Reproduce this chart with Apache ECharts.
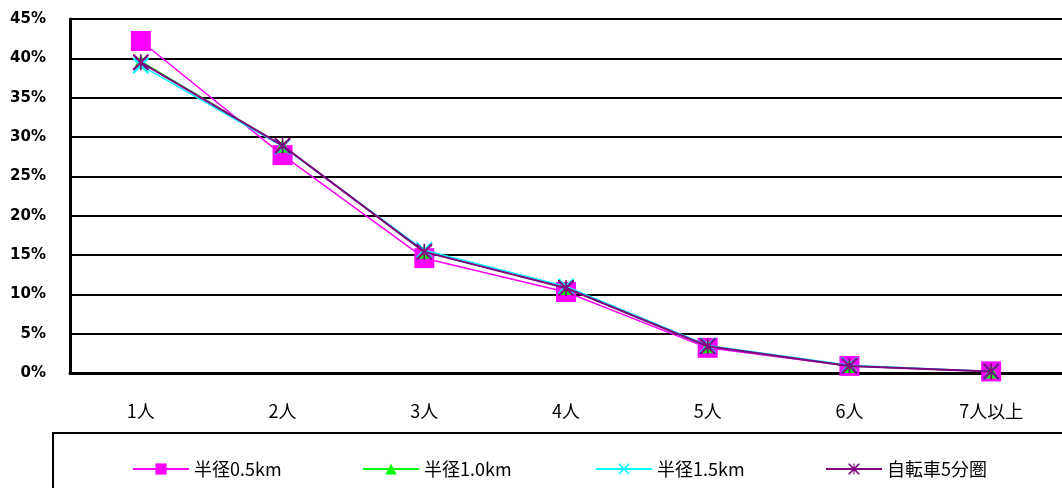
<!DOCTYPE html>
<html><head><meta charset="utf-8">
<script src="https://cdn.jsdelivr.net/npm/echarts@6/dist/echarts.min.js"></script>
<style>html,body{margin:0;padding:0;background:#fff}#c{width:1062px;height:488px}</style>
</head><body><div id="c"></div>
<script>
const categories = ['1人','2人','3人','4人','5人','6人','7人以上'];
const seriesNames = ['半径0.5km','半径1.0km','半径1.5km','自転車5分圏'];
const r05 = [42.2, 27.7, 14.6, 10.3, 3.2, 0.9, 0.2];
const r10 = [39.6, 28.9, 15.4, 10.8, 3.4, 0.9, 0.2];
const r15 = [39.1, 28.8, 15.6, 11.0, 3.5, 1.0, 0.2];
const bike = [39.5, 28.9, 15.4, 10.8, 3.4, 0.9, 0.2];
const yTicks = [0,5,10,15,20,25,30,35,40,45];

const X = 'path://M0,0 L2,0 L10,8 L18,0 L20,0 L20,2 L12,10 L20,18 L20,20 L18,20 L10,12 L2,20 L0,20 L0,18 L8,10 L0,2 Z';
const AST = 'path://M0,0 L2,0 L9,7 L9,0 L11,0 L11,7 L18,0 L20,0 L20,2 L12,10 L20,18 L20,20 L18,20 L11,13 L11,20 L9,20 L9,13 L2,20 L0,20 L0,18 L8,10 L0,2 Z';
const colors = ['#FF00FF','#00FF00','#00FFFF','#800080'];
const symbols = ['rect','triangle',X,AST];
const sizes = [20,14,16,16];
const datas = [r05,r10,r15,bike];

const chart = echarts.init(document.getElementById('c'));
const legendLefts = [127, 357, 590, 820];
chart.setOption({
  animation:false,
  grid:{left:70, top:19, width:999, height:354},
  xAxis:{type:'category', data:categories, boundaryGap:true,
    axisLine:{lineStyle:{color:'#000', width:3}},
    axisTick:{inside:true, length:7, lineStyle:{color:'#000', width:3}},
    axisLabel:{color:'#000', fontSize:18, margin:29, fontFamily:'Noto Sans CJK JP'}},
  yAxis:{type:'value', min:yTicks[0], max:yTicks[yTicks.length-1], interval:5,
    axisLine:{show:true, lineStyle:{color:'#000', width:3}},
    axisTick:{show:true, inside:true, length:4, lineStyle:{color:'#000', width:2}},
    splitLine:{lineStyle:{color:'#000', width:2}},
    axisLabel:{color:'#000', fontSize:15, fontWeight:'bold', margin:24, fontFamily:'DejaVu Sans', formatter:'{value}%'}},
  legend: seriesNames.map((n,i)=>({data:[n], left:legendLefts[i], top:455, itemWidth:56, itemHeight:14, itemGap:0,
    textStyle:{color:'#000', fontSize:18, fontFamily:'Noto Sans CJK JP'}})),
  graphic:[{type:'rect', shape:{x:53, y:433, width:1100, height:100}, style:{fill:'none', stroke:'#000', lineWidth:2}, z:-1}],
  series: seriesNames.map((n,i)=>({name:n, type:'line', data:datas[i], symbol:symbols[i], symbolSize:sizes[i],
    showAllSymbol:true, lineStyle:{color:colors[i], width:i===3?2:1.5}, itemStyle:{color:colors[i]}, z:2+i}))
});
</script></body></html>
